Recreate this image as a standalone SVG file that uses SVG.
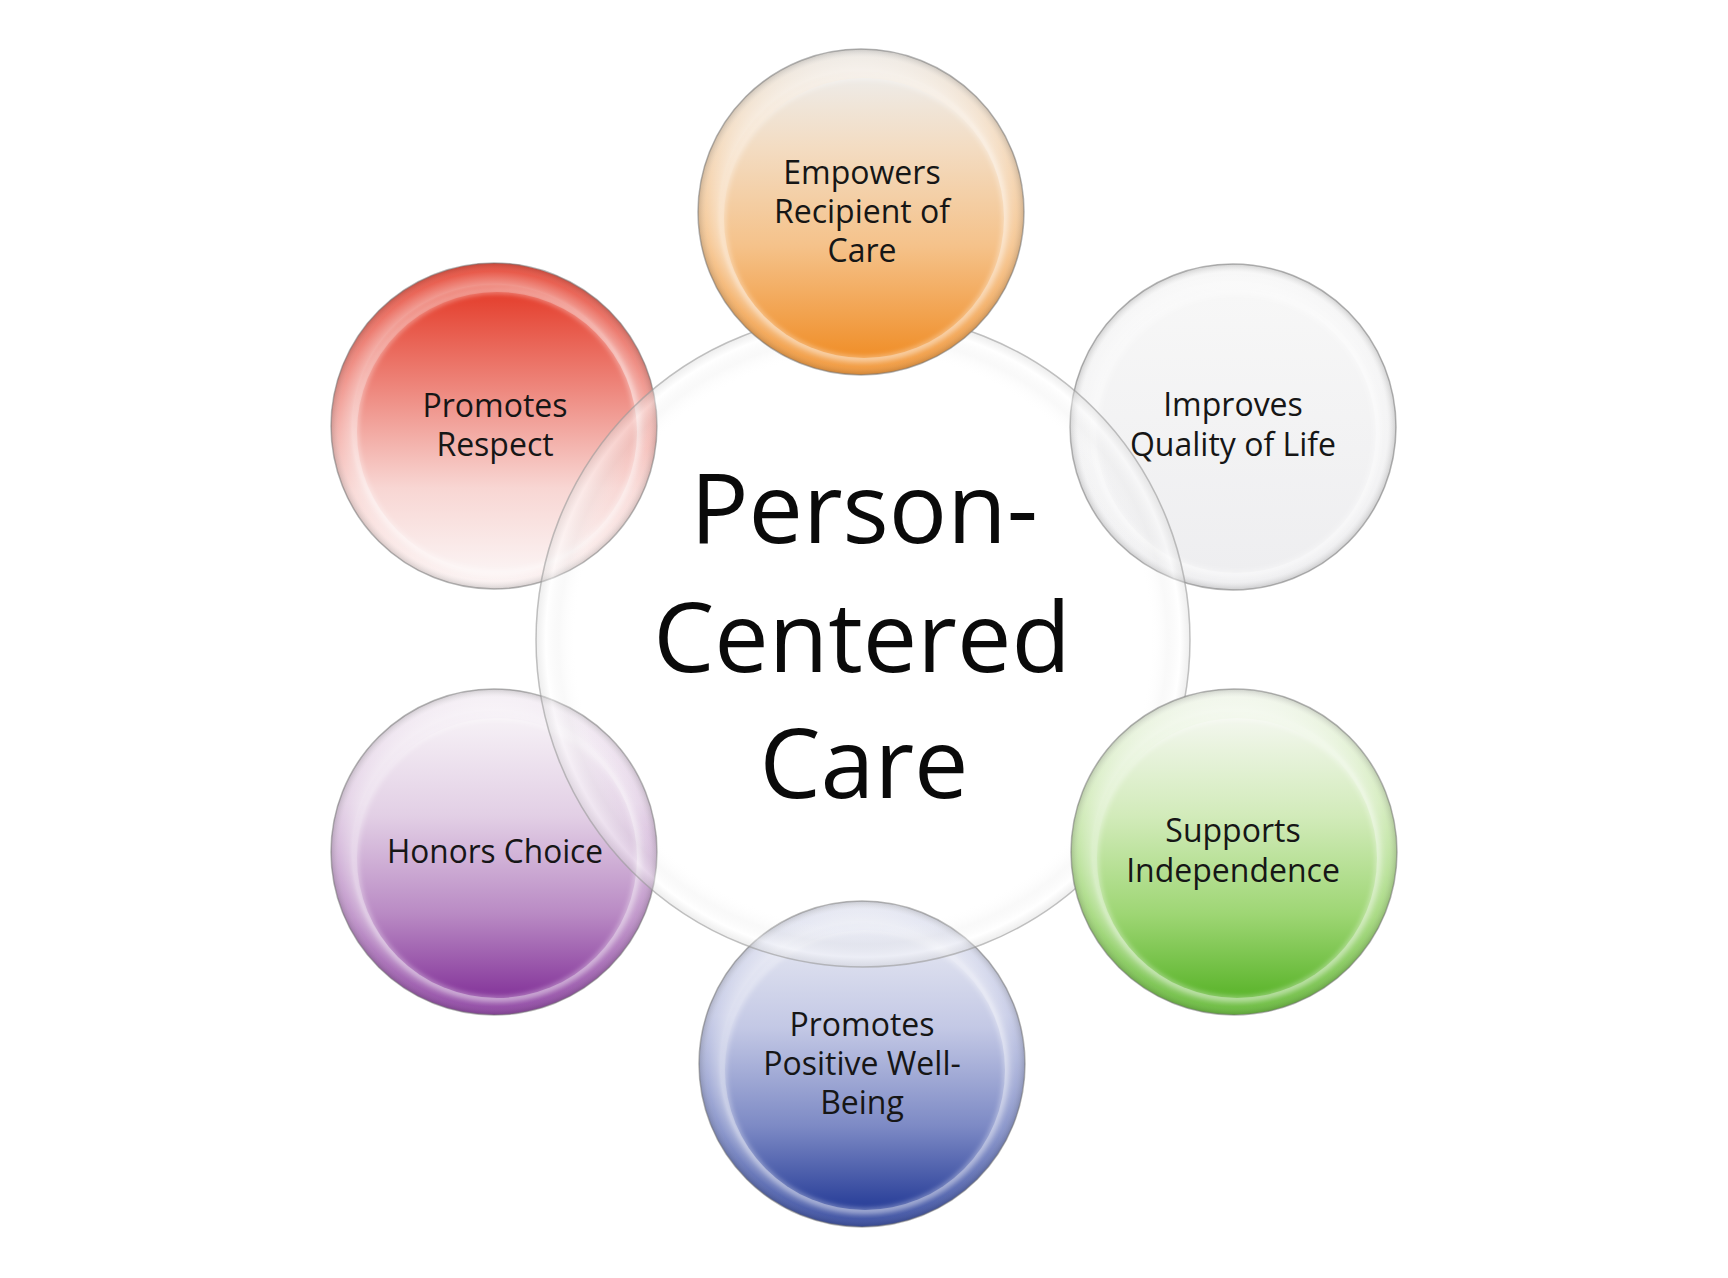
<svg xmlns="http://www.w3.org/2000/svg" width="1728" height="1278" viewBox="0 0 1728 1278">
<defs>
  <style>
    .lbl { font-family: "Open Sans", "Liberation Sans", sans-serif; font-size: 32px; fill: #161616; text-anchor: middle; }
    .big { font-family: "Open Sans", "Liberation Sans", sans-serif; font-size: 97px; fill: #0a0a0a; text-anchor: middle; }
    .edge { stroke: #7a7a7a; stroke-opacity: 0.55; stroke-width: 1.5; }
    .rim { fill: url(#rim); }
    .iring { fill: none; stroke: #ffffff; stroke-opacity: 0.4; stroke-width: 5; filter: url(#soft); }
  </style>
  <filter id="soft" x="-10%" y="-10%" width="120%" height="120%">
    <feGaussianBlur stdDeviation="2.5"/>
  </filter>
  <radialGradient id="rim" cx="0.5" cy="0.5" r="0.5">
    <stop offset="0" stop-color="#ffffff" stop-opacity="0"/>
    <stop offset="0.80" stop-color="#ffffff" stop-opacity="0"/>
    <stop offset="0.87" stop-color="#ffffff" stop-opacity="0.4"/>
    <stop offset="0.95" stop-color="#ffffff" stop-opacity="0.12"/>
    <stop offset="1" stop-color="#606060" stop-opacity="0.25"/>
  </radialGradient>
  <linearGradient id="gOrange" x1="0" y1="0" x2="0" y2="1">
    <stop offset="0" stop-color="#eeebe7"/>
    <stop offset="0.25" stop-color="#f3dcc2"/>
    <stop offset="0.6" stop-color="#f5c28a"/>
    <stop offset="1" stop-color="#f08e28"/>
  </linearGradient>
  <linearGradient id="gRed" x1="0" y1="0" x2="0" y2="1">
    <stop offset="0" stop-color="#e43e2c"/>
    <stop offset="0.35" stop-color="#ee887e"/>
    <stop offset="0.7" stop-color="#f8d6d3"/>
    <stop offset="1" stop-color="#fbf3f3"/>
  </linearGradient>
  <linearGradient id="gWhite" x1="0" y1="0" x2="0" y2="1">
    <stop offset="0" stop-color="#f7f7f7"/>
    <stop offset="1" stop-color="#eeeef0"/>
  </linearGradient>
  <linearGradient id="gPurple" x1="0" y1="0" x2="0" y2="1">
    <stop offset="0" stop-color="#f6f1f6"/>
    <stop offset="0.35" stop-color="#e2cfe5"/>
    <stop offset="0.7" stop-color="#b98ac4"/>
    <stop offset="1" stop-color="#84349a"/>
  </linearGradient>
  <linearGradient id="gGreen" x1="0" y1="0" x2="0" y2="1">
    <stop offset="0" stop-color="#f3f7ee"/>
    <stop offset="0.35" stop-color="#d2ebba"/>
    <stop offset="0.7" stop-color="#9ed674"/>
    <stop offset="1" stop-color="#5ab42a"/>
  </linearGradient>
  <linearGradient id="gBlue" x1="0" y1="0" x2="0" y2="1">
    <stop offset="0" stop-color="#e6e8f2"/>
    <stop offset="0.35" stop-color="#c3c8e5"/>
    <stop offset="0.7" stop-color="#7d8ac5"/>
    <stop offset="1" stop-color="#263c97"/>
  </linearGradient>
  <radialGradient id="gCenter" cx="0.5" cy="0.5" r="0.5">
    <stop offset="0" stop-color="#ffffff" stop-opacity="0"/>
    <stop offset="0.88" stop-color="#ffffff" stop-opacity="0.05"/>
    <stop offset="0.93" stop-color="#e8e8e8" stop-opacity="0.25"/>
    <stop offset="0.97" stop-color="#ffffff" stop-opacity="0.45"/>
    <stop offset="1" stop-color="#d4d4d4" stop-opacity="0.4"/>
  </radialGradient>
</defs>
<rect width="1728" height="1278" fill="#ffffff"/>

<g id="node-respect">
  <circle cx="494" cy="426" r="163" fill="url(#gRed)" class="edge"/>
  <circle cx="494" cy="426" r="163" class="rim"/>
  <circle cx="497" cy="432" r="140" fill="url(#gRed)"/>
  <circle cx="497" cy="432" r="141" class="iring"/>
  <text class="lbl" x="495" y="417">Promotes</text>
  <text class="lbl" x="495" y="456">Respect</text>
</g>

<g id="node-quality">
  <circle cx="1233" cy="427" r="163" fill="url(#gWhite)" class="edge"/>
  <circle cx="1233" cy="427" r="163" class="rim"/>
  <circle cx="1236" cy="433" r="140" fill="url(#gWhite)"/>
  <circle cx="1236" cy="433" r="141" class="iring"/>
  <text class="lbl" x="1233" y="416">Improves</text>
  <text class="lbl" x="1233" y="456">Quality of Life</text>
</g>

<g id="node-choice">
  <circle cx="494" cy="852" r="163" fill="url(#gPurple)" class="edge"/>
  <circle cx="494" cy="852" r="163" class="rim"/>
  <circle cx="497" cy="858" r="140" fill="url(#gPurple)"/>
  <circle cx="497" cy="858" r="141" class="iring"/>
  <text class="lbl" x="495" y="863" textLength="216" lengthAdjust="spacingAndGlyphs">Honors Choice</text>
</g>

<g id="node-wellbeing">
  <circle cx="862" cy="1064" r="163" fill="url(#gBlue)" class="edge"/>
  <circle cx="862" cy="1064" r="163" class="rim"/>
  <circle cx="865" cy="1070" r="140" fill="url(#gBlue)"/>
  <circle cx="865" cy="1070" r="141" class="iring"/>
  <text class="lbl" x="862" y="1036">Promotes</text>
  <text class="lbl" x="862" y="1075">Positive Well-</text>
  <text class="lbl" x="862" y="1114">Being</text>
</g>

<g id="node-center">
  <circle cx="863" cy="640" r="327" fill="url(#gCenter)" stroke="#9a9a9a" stroke-opacity="0.6" stroke-width="1.5"/>
  <text class="big" x="864" y="543">Person-</text>
  <text class="big" x="862" y="672">Centered</text>
  <text class="big" x="864" y="798">Care</text>
</g>

<g id="node-empowers">
  <circle cx="861" cy="212" r="163" fill="url(#gOrange)" class="edge"/>
  <circle cx="861" cy="212" r="163" class="rim"/>
  <circle cx="864" cy="218" r="140" fill="url(#gOrange)"/>
  <circle cx="864" cy="218" r="141" class="iring"/>
  <text class="lbl" x="862" y="184">Empowers</text>
  <text class="lbl" x="862" y="223">Recipient of</text>
  <text class="lbl" x="862" y="262">Care</text>
</g>

<g id="node-independence">
  <circle cx="1234" cy="852" r="163" fill="url(#gGreen)" class="edge"/>
  <circle cx="1234" cy="852" r="163" class="rim"/>
  <circle cx="1237" cy="858" r="140" fill="url(#gGreen)"/>
  <circle cx="1237" cy="858" r="141" class="iring"/>
  <text class="lbl" x="1233" y="842">Supports</text>
  <text class="lbl" x="1233" y="882">Independence</text>
</g>

<g id="connectors"></g>
</svg>
